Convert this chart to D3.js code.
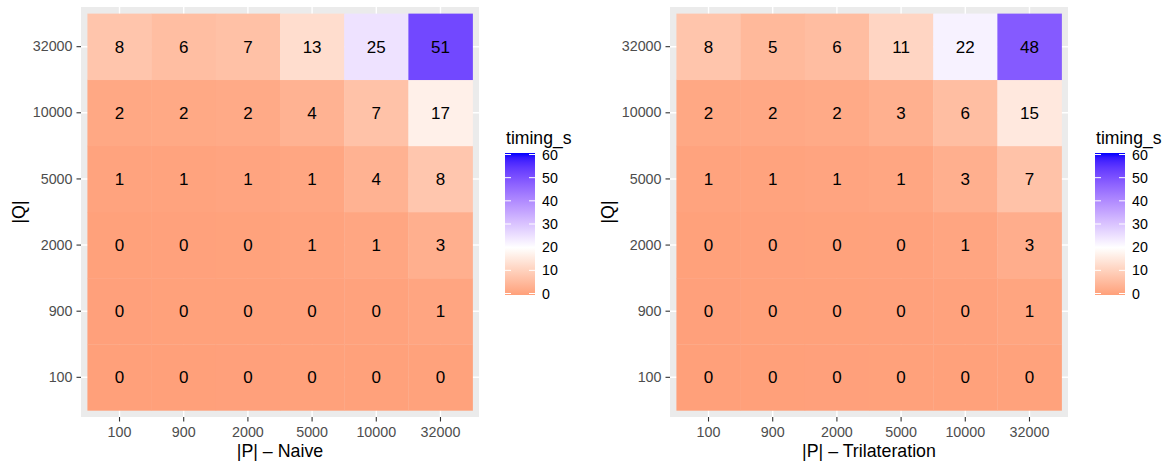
<!DOCTYPE html>
<html>
<head>
<meta charset="utf-8">
<script src="https://cdn.jsdelivr.net/npm/d3@7"></script>
<style>
  body { margin: 0; background: #fff; }
  svg { display: block; font-family: "Liberation Sans", Arial, Helvetica, sans-serif; }
</style>
</head>
<body>
<svg id="chart" width="1173" height="464"></svg>
<script>
// ---- data ----
const pCategories = ["100", "900", "2000", "5000", "10000", "32000"];
const qCategories = ["100", "900", "2000", "5000", "10000", "32000"];
// rows follow qCategories (100 .. 32000), columns follow pCategories
const naiveValues = [
  [0.05, 0.06, 0.08, 0.12, 0.2, 0.35],
  [0.1, 0.12, 0.18, 0.3, 0.45, 1.1],
  [0.2, 0.25, 0.35, 0.6, 1.2, 3.1],
  [0.6, 0.7, 0.9, 1.3, 3.8, 8.0],
  [1.6, 1.8, 2.1, 3.8, 7.2, 16.8],
  [7.8, 6.2, 6.9, 12.8, 24.8, 51.2]
];
const trilaterationValues = [
  [0.05, 0.06, 0.08, 0.12, 0.2, 0.35],
  [0.1, 0.12, 0.17, 0.28, 0.4, 1.0],
  [0.2, 0.24, 0.33, 0.45, 1.1, 2.8],
  [0.6, 0.7, 0.9, 1.2, 3.2, 7.1],
  [1.6, 1.7, 2.0, 3.3, 6.2, 15.2],
  [7.7, 5.2, 6.1, 11.2, 22.1, 48.1]
];
const legendTicks = [0, 10, 20, 30, 40, 50, 60];
const legendTitle = "timing_s";
const yTitle = "|Q|";
const panels = [
  { title: "|P| \u2013 Naive", values: naiveValues, x0: 81, x1: 479, legendX: 505, yTitleX: 25 },
  { title: "|P| \u2013 Trilateration", values: trilaterationValues, x0: 670, x1: 1068, legendX: 1095, yTitleX: 614 }
];

// ---- rendering ----
const svg = d3.select("#chart");
const color = d3.scaleLinear()
  .domain([0, 20, 60])
  .range(["#FFA07A", "#FFFFFF", "#0000FF"])
  .interpolate(d3.interpolateLab)
  .clamp(true);

const panelTop = 7, panelBottom = 417;
const textGrey = "#4D4D4D";

const defs = svg.append("defs");
const grad = defs.append("linearGradient").attr("id", "lg")
  .attr("x1", 0).attr("y1", 1).attr("x2", 0).attr("y2", 0);
d3.range(0, 61, 2).forEach(v => {
  grad.append("stop").attr("offset", v / 60).attr("stop-color", color(v));
});

panels.forEach(p => {
  const x = d3.scaleBand().domain(pCategories).range([p.x0, p.x1]).paddingInner(0).paddingOuter(0.1);
  const y = d3.scaleBand().domain(qCategories.slice().reverse()).range([panelTop, panelBottom]).paddingInner(0).paddingOuter(0.1);
  const g = svg.append("g");

  g.append("rect").attr("x", p.x0).attr("y", panelTop)
    .attr("width", p.x1 - p.x0).attr("height", panelBottom - panelTop)
    .attr("fill", "#EBEBEB");
  pCategories.forEach(c => {
    g.append("line").attr("x1", x(c) + x.bandwidth() / 2).attr("x2", x(c) + x.bandwidth() / 2)
      .attr("y1", panelTop).attr("y2", panelBottom).attr("stroke", "#fff").attr("stroke-width", 1.4);
  });
  qCategories.forEach(c => {
    g.append("line").attr("y1", y(c) + y.bandwidth() / 2).attr("y2", y(c) + y.bandwidth() / 2)
      .attr("x1", p.x0).attr("x2", p.x1).attr("stroke", "#fff").attr("stroke-width", 1.4);
  });

  const cells = [];
  qCategories.forEach((q, i) => pCategories.forEach((pc, j) => cells.push({ q, p: pc, v: p.values[i][j] })));
  g.selectAll("rect.tile").data(cells).enter().append("rect")
    .attr("class", "tile")
    .attr("x", d => x(d.p)).attr("y", d => y(d.q))
    .attr("width", x.bandwidth() + 0.3).attr("height", y.bandwidth() + 0.3)
    .attr("fill", d => color(d.v));
  g.selectAll("text.lab").data(cells).enter().append("text")
    .attr("class", "lab")
    .attr("x", d => x(d.p) + x.bandwidth() / 2)
    .attr("y", d => y(d.q) + y.bandwidth() / 2)
    .attr("dy", "0.36em")
    .attr("text-anchor", "middle")
    .style("font-size", "17px")
    .attr("fill", "#000")
    .text(d => Math.round(d.v));

  const xAxis = d3.axisBottom(x).tickSize(4.5).tickPadding(5.5);
  const gx = g.append("g").attr("transform", `translate(0,${panelBottom})`).call(xAxis);
  const yAxis = d3.axisLeft(y).tickSize(4.5).tickPadding(4);
  const gy = g.append("g").attr("transform", `translate(${p.x0},0)`).call(yAxis);
  [gx, gy].forEach(a => {
    a.attr("font-size", null).attr("font-family", null);
    a.select(".domain").remove();
    a.selectAll(".tick line").attr("stroke", "#333333").attr("stroke-width", 1.1);
    a.selectAll(".tick text").attr("fill", textGrey).style("font-size", "14.3px");
  });

  g.append("text").attr("x", (p.x0 + p.x1) / 2).attr("y", 457)
    .attr("text-anchor", "middle").style("font-size", "17.8px").attr("fill", "#000").text(p.title);
  g.append("text")
    .attr("transform", `translate(${p.yTitleX},${(panelTop + panelBottom) / 2}) rotate(-90)`)
    .attr("text-anchor", "middle").style("font-size", "17.8px").attr("fill", "#000").text(yTitle);

  const lx = p.legendX, barW = 30, barTop = 153, barBot = 295;
  g.append("text").attr("x", lx + 1).attr("y", 144).style("font-size", "17.6px").attr("fill", "#000").text(legendTitle);
  g.append("rect").attr("x", lx).attr("y", barTop).attr("width", barW).attr("height", barBot - barTop)
    .attr("fill", "url(#lg)");
  const ly = d3.scaleLinear().domain([0, 60]).range([barBot - 1.5, barTop + 1.5]);
  legendTicks.forEach(t => {
    g.append("line").attr("x1", lx).attr("x2", lx + barW / 5).attr("y1", ly(t)).attr("y2", ly(t))
      .attr("stroke", "#fff").attr("stroke-width", 1);
    g.append("line").attr("x1", lx + barW - barW / 5).attr("x2", lx + barW).attr("y1", ly(t)).attr("y2", ly(t))
      .attr("stroke", "#fff").attr("stroke-width", 1);
    g.append("text").attr("x", lx + barW + 7).attr("y", ly(t)).attr("dy", "0.36em")
      .style("font-size", "14.2px").attr("fill", "#000").text(t);
  });
});
</script>
</body>
</html>
